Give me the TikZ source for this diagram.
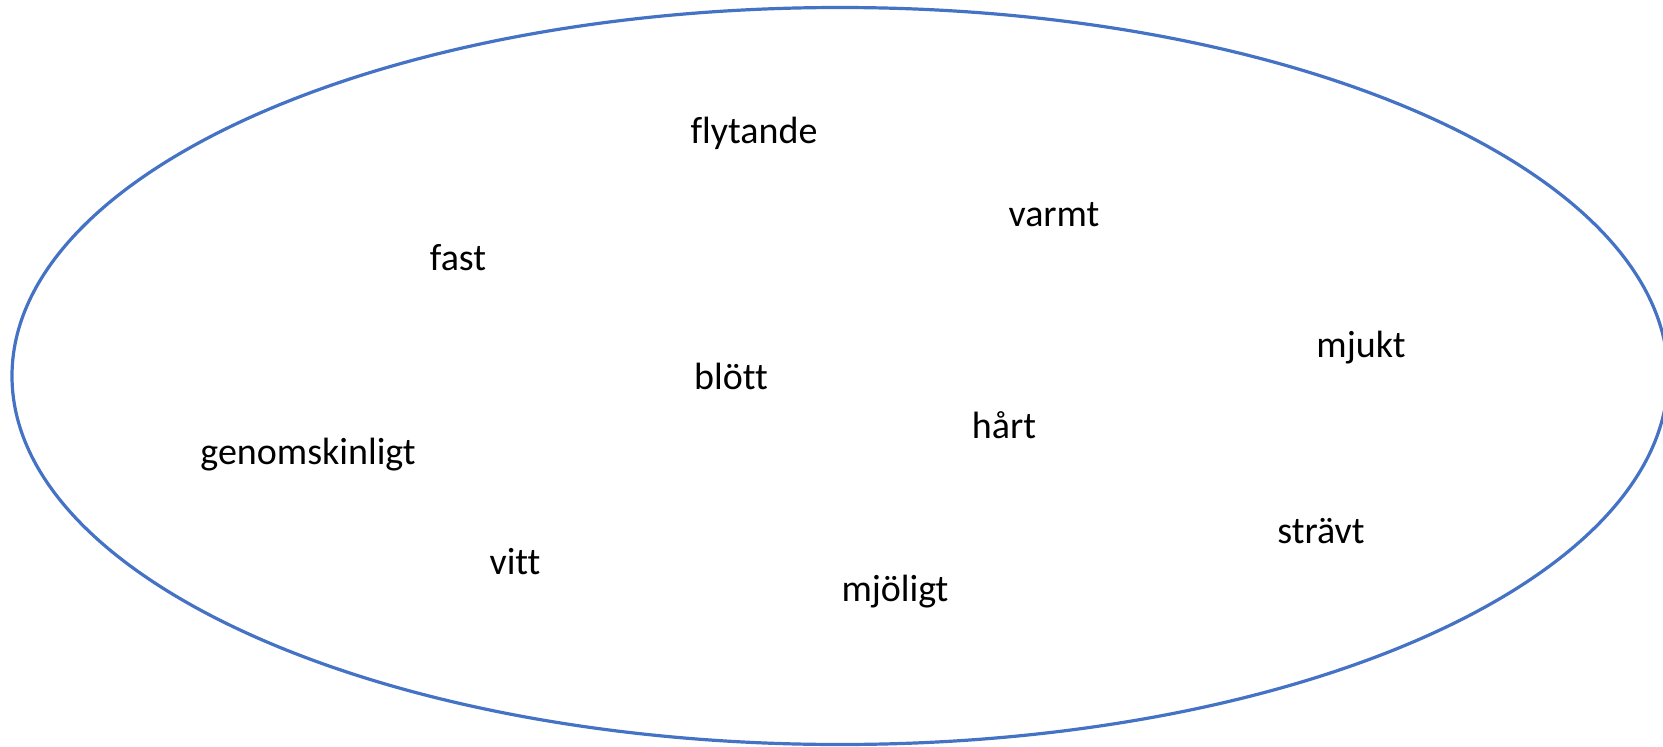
\documentclass[tikz,border=0pt]{standalone}
\usepackage{fontspec}
\usetikzlibrary{shapes.geometric}
\setmainfont[Ligatures=NoCommon]{Carlito}
\definecolor{ellblue}{HTML}{4472C4}
\begin{document}
\begin{tikzpicture}[x=1pt,y=-1pt,
  word/.style={anchor=base,font=\fontsize{38}{44}\selectfont,text=black,inner sep=0pt}]
\useasboundingbox (0,0) rectangle (1663,747);
\node[draw=ellblue,line width=3.2pt,ellipse,minimum width=1656pt,minimum height=737pt,inner sep=0pt] (ell) at (840,376) {};
\node[word] (flytande) at (754,143) {flytande};
\node[word] (varmt) at (1054,226) {varmt};
\node[word] (fast) at (458,270) {fast};
\node[word] (mjukt) at (1361,357) {mjukt};
\node[word] (blott) at (731,389) {blött};
\node[word] (hart) at (1004,438) {hårt};
\node[word] (genom) at (308,464) {genomskinligt};
\node[word] (stravt) at (1321,543) {strävt};
\node[word] (vitt) at (515,574) {vitt};
\node[word] (mjoligt) at (895,601) {mjöligt};
\end{tikzpicture}
\end{document}
